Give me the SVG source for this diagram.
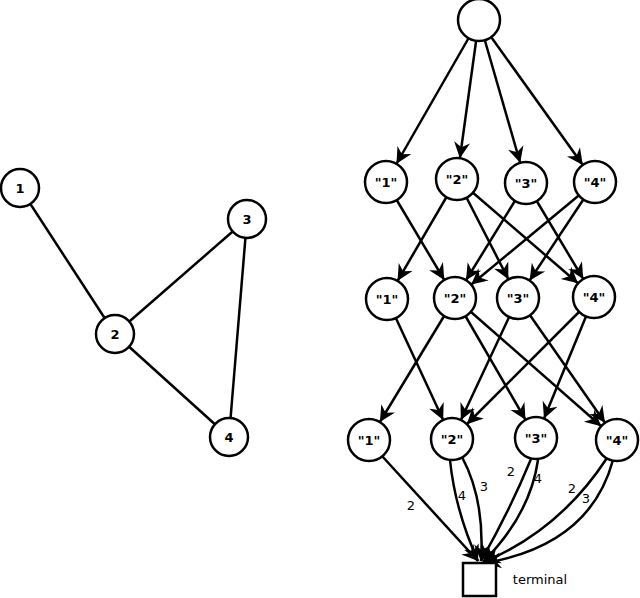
<svg xmlns="http://www.w3.org/2000/svg" width="640" height="598" viewBox="0 0 640 598">
<style>
.e{stroke:#000;stroke-width:2.5;fill:none}
.a{marker-end:url(#h)}
.t{marker-end:url(#ht)}
circle{fill:#fff;stroke:#000;stroke-width:2.5}
.n{font-family:"DejaVu Sans",sans-serif;font-size:13px;font-weight:bold;text-anchor:middle;dominant-baseline:central}
.l{font-family:"DejaVu Sans",sans-serif;font-size:13px;text-anchor:middle;dominant-baseline:central}
</style>
<defs>
<marker id="h" markerUnits="userSpaceOnUse" orient="auto" refX="21" refY="0" overflow="visible" markerWidth="1" markerHeight="1"><path d="M0,0 L-16,-8 L-11,0 L-16,8 Z" fill="#000"/></marker>
<marker id="ht" markerUnits="userSpaceOnUse" orient="auto" refX="0" refY="0" overflow="visible" markerWidth="1" markerHeight="1"><path d="M0,0 L-16,-8 L-11,0 L-16,8 Z" fill="#000"/></marker>
</defs>
<rect width="640" height="598" fill="#fff"/>
<g id="connectors">
<line class="e" x1="20" y1="188" x2="115" y2="334"/>
<line class="e" x1="115" y1="334" x2="247" y2="219"/>
<line class="e" x1="115" y1="334" x2="229" y2="437"/>
<line class="e" x1="247" y1="219" x2="229" y2="437"/>
<line class="e a" x1="479" y1="20" x2="386" y2="182"/>
<line class="e a" x1="479" y1="20" x2="457" y2="179"/>
<line class="e a" x1="479" y1="20" x2="526" y2="183"/>
<line class="e a" x1="479" y1="20" x2="595" y2="182"/>
<line class="e a" x1="386" y1="182" x2="455" y2="298"/>
<line class="e a" x1="457" y1="179" x2="387" y2="299"/>
<line class="e a" x1="457" y1="179" x2="518" y2="298"/>
<line class="e a" x1="457" y1="179" x2="594" y2="297"/>
<line class="e a" x1="526" y1="183" x2="455" y2="298"/>
<line class="e a" x1="526" y1="183" x2="594" y2="297"/>
<line class="e a" x1="595" y1="182" x2="455" y2="298"/>
<line class="e a" x1="595" y1="182" x2="518" y2="298"/>
<line class="e a" x1="387" y1="299" x2="452" y2="439"/>
<line class="e a" x1="455" y1="298" x2="369" y2="440"/>
<line class="e a" x1="455" y1="298" x2="536" y2="438"/>
<line class="e a" x1="455" y1="298" x2="617" y2="440"/>
<line class="e a" x1="518" y1="298" x2="452" y2="439"/>
<line class="e a" x1="518" y1="298" x2="617" y2="440"/>
<line class="e a" x1="594" y1="297" x2="452" y2="439"/>
<line class="e a" x1="594" y1="297" x2="536" y2="438"/>
<path class="e t" d="M382,456 L478,561"/>
<path class="e t" d="M450,460 Q455,510 478,561"/>
<path class="e t" d="M462,457 Q485,500 481,561"/>
<path class="e t" d="M531,459 Q510,510 481,561"/>
<path class="e t" d="M538,460 Q530,515 483,562"/>
<path class="e t" d="M607,458 Q560,530 484,562"/>
<path class="e t" d="M613,460 Q590,545 485,563"/>
</g>
<g id="labels">
<text class="l" x="411" y="505">2</text>
<text class="l" x="462" y="495">4</text>
<text class="l" x="484" y="486">3</text>
<text class="l" x="511" y="471">2</text>
<text class="l" x="538" y="478">4</text>
<text class="l" x="572" y="488">2</text>
<text class="l" x="586" y="498">3</text>
</g>
<g id="n-l1"><circle cx="20" cy="188" r="19"/><text class="n" x="20" y="188">1</text></g>
<g id="n-l2"><circle cx="115" cy="334" r="19"/><text class="n" x="115" y="334">2</text></g>
<g id="n-l3"><circle cx="247" cy="219" r="19"/><text class="n" x="247" y="219">3</text></g>
<g id="n-l4"><circle cx="229" cy="437" r="19"/><text class="n" x="229" y="437">4</text></g>
<g id="n-root"><circle cx="479" cy="20" r="21"/></g>
<g id="n-a1"><circle cx="386" cy="182" r="21"/><text class="n" x="386" y="182">"1"</text></g>
<g id="n-a2"><circle cx="457" cy="179" r="21"/><text class="n" x="457" y="179">"2"</text></g>
<g id="n-a3"><circle cx="526" cy="183" r="21"/><text class="n" x="526" y="183">"3"</text></g>
<g id="n-a4"><circle cx="595" cy="182" r="21"/><text class="n" x="595" y="182">"4"</text></g>
<g id="n-b1"><circle cx="387" cy="299" r="21"/><text class="n" x="387" y="299">"1"</text></g>
<g id="n-b2"><circle cx="455" cy="298" r="21"/><text class="n" x="455" y="298">"2"</text></g>
<g id="n-b3"><circle cx="518" cy="298" r="21"/><text class="n" x="518" y="298">"3"</text></g>
<g id="n-b4"><circle cx="594" cy="297" r="21"/><text class="n" x="594" y="297">"4"</text></g>
<g id="n-c1"><circle cx="369" cy="440" r="21"/><text class="n" x="369" y="440">"1"</text></g>
<g id="n-c2"><circle cx="452" cy="439" r="21"/><text class="n" x="452" y="439">"2"</text></g>
<g id="n-c3"><circle cx="536" cy="438" r="21"/><text class="n" x="536" y="438">"3"</text></g>
<g id="n-c4"><circle cx="617" cy="440" r="21"/><text class="n" x="617" y="440">"4"</text></g>
<g id="n-terminal"><rect x="463" y="563" width="33" height="33" fill="#fff" stroke="#000" stroke-width="2.5"/><text class="l" x="540" y="579">terminal</text></g>
</svg>
